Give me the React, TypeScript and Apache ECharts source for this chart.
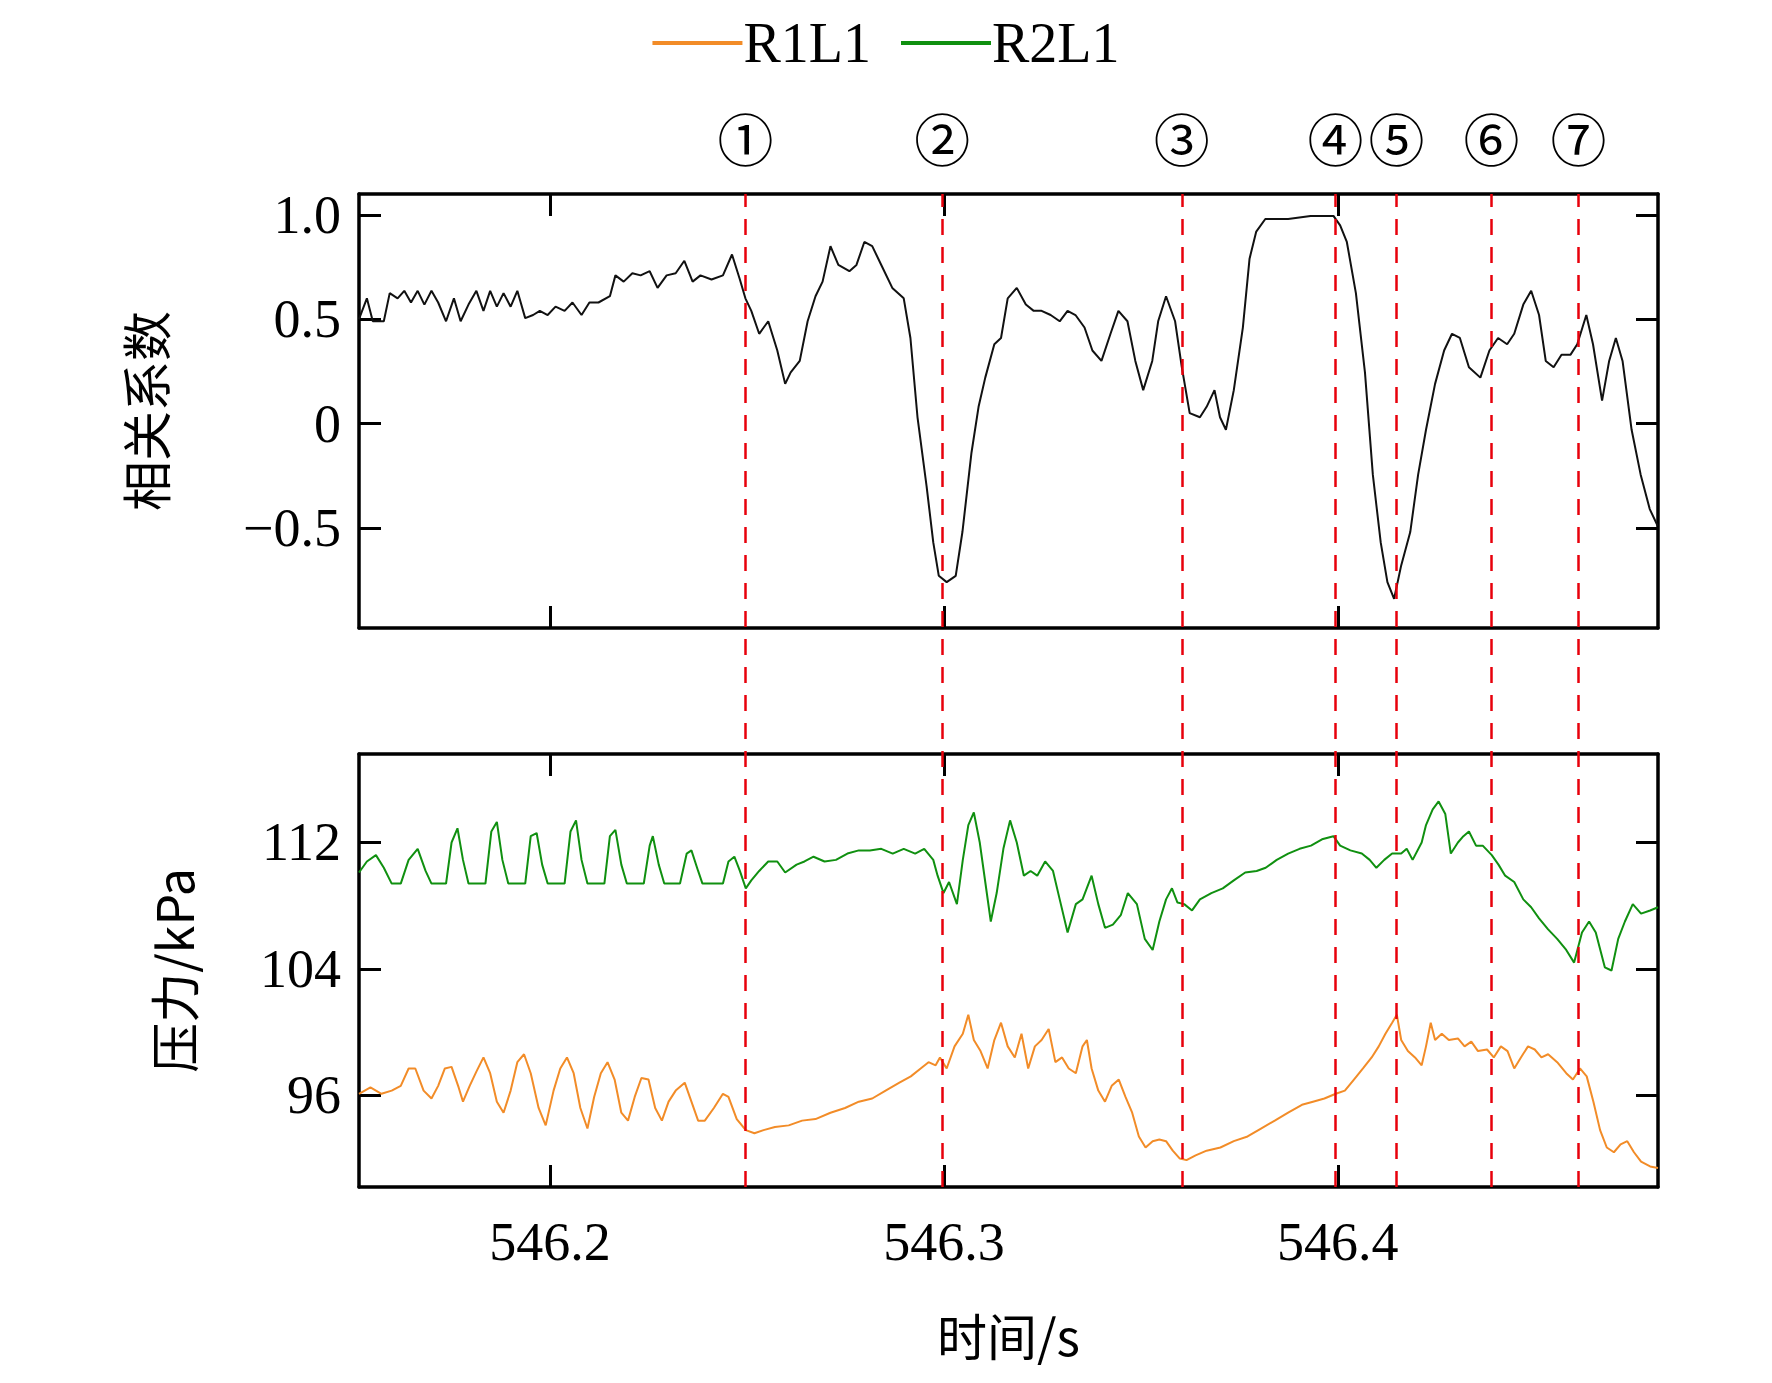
import React, { useEffect, useRef } from "react";
import * as echarts from "echarts";

// time is in ms after 546.2 s
const corr: number[][] = [
  [-48.5, 0.5], [-46.5, 0.6], [-45.0, 0.49], [-42.2, 0.49], [-40.7, 0.625], [-38.7, 0.6], [-37.0, 0.636],
  [-35.3, 0.58], [-33.6, 0.636], [-31.9, 0.57], [-30.1, 0.636], [-28.4, 0.58], [-26.4, 0.49], [-24.4, 0.6],
  [-22.7, 0.49], [-20.7, 0.57], [-18.7, 0.636], [-16.9, 0.54], [-15.2, 0.636], [-13.5, 0.56], [-11.8, 0.625],
  [-10.0, 0.56], [-8.3, 0.636], [-6.3, 0.505], [-4.3, 0.52], [-2.6, 0.54], [-0.6, 0.52], [1.4, 0.56],
  [3.7, 0.54], [5.7, 0.58], [8.0, 0.52], [10.0, 0.58], [12.3, 0.58], [15.2, 0.61], [16.6, 0.71],
  [18.7, 0.68], [20.9, 0.72], [23.0, 0.71], [25.3, 0.73], [27.3, 0.65], [29.6, 0.71], [31.9, 0.72],
  [34.1, 0.78], [36.2, 0.68], [38.2, 0.71], [41.0, 0.69], [43.9, 0.71], [46.2, 0.81], [48.2, 0.69],
  [49.6, 0.6], [51.1, 0.54], [53.1, 0.43], [55.4, 0.49], [57.7, 0.35], [59.7, 0.19], [61.1, 0.245],
  [63.4, 0.3], [65.4, 0.49], [67.4, 0.61], [69.2, 0.68], [71.2, 0.85], [73.2, 0.76], [76.0, 0.73],
  [77.8, 0.76], [79.8, 0.87], [81.8, 0.85], [84.1, 0.76], [86.9, 0.65], [89.8, 0.6], [91.5, 0.41],
  [93.3, 0.03], [95.6, -0.3], [97.3, -0.57], [98.7, -0.73], [100.7, -0.76], [103.0, -0.73], [104.7, -0.52],
  [107.0, -0.14], [108.8, 0.08], [110.5, 0.22], [112.8, 0.38], [114.5, 0.41], [116.2, 0.6], [118.5, 0.65],
  [120.8, 0.57], [122.8, 0.54], [124.8, 0.54], [127.1, 0.52], [129.4, 0.49], [131.4, 0.54], [133.4, 0.52],
  [135.7, 0.46], [137.7, 0.35], [140.0, 0.3], [142.3, 0.43], [144.3, 0.54], [146.6, 0.49], [148.6, 0.3],
  [150.6, 0.16], [152.9, 0.3], [154.4, 0.49], [156.4, 0.61], [158.7, 0.49], [160.4, 0.27], [162.4, 0.05],
  [165.0, 0.03], [166.7, 0.08], [168.7, 0.16], [170.1, 0.03], [171.6, -0.03], [173.6, 0.16], [175.9, 0.46],
  [177.6, 0.79], [179.3, 0.92], [181.6, 0.98], [187.4, 0.98], [193.1, 0.995], [198.9, 0.995], [200.6, 0.95],
  [202.3, 0.87], [204.6, 0.625], [206.9, 0.245], [208.9, -0.245], [210.9, -0.57], [212.6, -0.76], [214.3, -0.84],
  [216.1, -0.68], [218.4, -0.52], [220.4, -0.245], [222.4, -0.03], [224.7, 0.19], [227.0, 0.35], [229.0, 0.43],
  [231.0, 0.41], [233.3, 0.27], [236.2, 0.22], [238.5, 0.35], [240.7, 0.41], [243.0, 0.38], [244.8, 0.43],
  [247.1, 0.57], [249.1, 0.636], [251.1, 0.52], [252.8, 0.3], [254.8, 0.27], [256.8, 0.33], [259.1, 0.33],
  [260.8, 0.38], [263.1, 0.52], [264.8, 0.38], [267.1, 0.11], [268.9, 0.3], [270.6, 0.41], [272.3, 0.3],
  [274.6, -0.03], [276.9, -0.245], [279.2, -0.41], [281.2, -0.49],
];

const r2l1: number[][] = [
  [-48.5, 110.1], [-46.5, 110.8], [-44.2, 111.2], [-42.2, 110.4], [-40.2, 109.4], [-37.9, 109.4], [-35.9, 110.9],
  [-33.6, 111.6], [-31.6, 110.2], [-30.1, 109.4], [-26.4, 109.4], [-25.0, 112.0], [-23.5, 112.9], [-22.1, 110.9],
  [-20.7, 109.4], [-16.4, 109.4], [-14.9, 112.7], [-13.5, 113.3], [-12.1, 110.9], [-10.6, 109.4], [-6.3, 109.4],
  [-4.9, 112.4], [-3.4, 112.6], [-2.0, 110.6], [-0.6, 109.4], [3.7, 109.4], [5.2, 112.7], [6.6, 113.4],
  [8.0, 110.9], [9.5, 109.4], [13.8, 109.4], [15.2, 112.4], [16.6, 112.8], [18.1, 110.6], [19.5, 109.4],
  [23.8, 109.4], [25.3, 111.8], [26.1, 112.4], [27.6, 110.6], [29.0, 109.4], [33.0, 109.4], [34.7, 111.3],
  [35.9, 111.5], [37.6, 110.2], [38.7, 109.4], [43.9, 109.4], [45.3, 110.8], [46.8, 111.1], [48.2, 110.2],
  [49.7, 109.1], [51.1, 109.6], [53.1, 110.2], [55.4, 110.8], [57.7, 110.8], [59.7, 110.1], [62.6, 110.6],
  [64.6, 110.8], [66.9, 111.1], [69.7, 110.8], [72.6, 110.9], [75.5, 111.3], [78.4, 111.5], [81.2, 111.5],
  [84.1, 111.6], [87.0, 111.3], [89.8, 111.6], [92.7, 111.3], [95.0, 111.6], [97.3, 110.9], [98.4, 109.9],
  [99.9, 108.8], [101.3, 109.5], [103.3, 108.1], [104.8, 110.9], [106.2, 113.1], [107.6, 113.9], [109.1, 112.0],
  [110.5, 109.5], [111.9, 107.0], [113.4, 108.8], [115.1, 111.6], [116.8, 113.4], [118.5, 112.0], [120.3, 109.9],
  [122.0, 110.2], [123.7, 109.9], [125.7, 110.8], [127.7, 110.2], [129.4, 108.4], [131.4, 106.3], [133.5, 108.1],
  [135.2, 108.4], [137.5, 109.9], [139.2, 108.1], [140.9, 106.6], [142.9, 106.8], [144.9, 107.4], [146.7, 108.8],
  [149.0, 108.1], [151.0, 105.9], [153.0, 105.2], [154.7, 107.0], [156.4, 108.4], [157.9, 109.1], [159.3, 108.2],
  [161.0, 108.1], [163.0, 107.7], [165.0, 108.4], [167.9, 108.8], [170.8, 109.1], [173.6, 109.6], [176.5, 110.1],
  [179.4, 110.2], [181.7, 110.4], [184.5, 110.9], [187.4, 111.3], [190.3, 111.6], [193.2, 111.8], [196.0, 112.2],
  [198.9, 112.4], [200.6, 111.8], [203.2, 111.5], [206.1, 111.3], [208.1, 110.9], [209.8, 110.4], [211.8, 110.9],
  [213.8, 111.3], [216.1, 111.3], [217.5, 111.6], [219.0, 110.9], [221.3, 112.0], [222.4, 113.1], [224.1, 114.1],
  [225.6, 114.6], [227.3, 113.8], [228.7, 111.3], [230.5, 112.0], [231.9, 112.4], [233.3, 112.7], [235.1, 111.8],
  [236.8, 111.8], [239.1, 111.2], [240.8, 110.6], [242.5, 109.9], [244.8, 109.5], [247.1, 108.4], [249.1, 107.9],
  [251.1, 107.2], [253.4, 106.5], [255.7, 105.9], [258.0, 105.2], [260.0, 104.4], [262.0, 106.3], [263.8, 107.0],
  [265.5, 106.3], [267.8, 104.1], [269.5, 103.9], [271.2, 105.9], [272.9, 107.0], [274.9, 108.1], [277.0, 107.5],
  [279.3, 107.7], [281.3, 107.9],
];

const r1l1: number[][] = [
  [-48.5, 96.1], [-45.6, 96.5], [-42.8, 96.1], [-40.2, 96.3], [-37.9, 96.6], [-35.9, 97.7], [-34.2, 97.7],
  [-32.1, 96.3], [-30.1, 95.8], [-28.4, 96.6], [-26.7, 97.7], [-25.0, 97.8], [-23.2, 96.5], [-22.1, 95.6],
  [-20.4, 96.6], [-18.7, 97.5], [-16.9, 98.4], [-15.2, 97.4], [-13.5, 95.6], [-11.8, 94.9], [-10.0, 96.3],
  [-8.3, 98.1], [-6.6, 98.6], [-4.9, 97.4], [-2.9, 95.2], [-1.1, 94.1], [0.9, 96.3], [2.6, 97.7],
  [4.3, 98.4], [6.0, 97.4], [7.7, 95.2], [9.5, 93.9], [11.2, 95.9], [12.9, 97.4], [14.6, 98.1],
  [16.4, 97.0], [18.1, 94.9], [19.8, 94.4], [21.5, 95.9], [23.2, 97.1], [25.0, 97.0], [26.7, 95.2],
  [28.4, 94.4], [30.1, 95.6], [31.9, 96.3], [34.2, 96.8], [35.9, 95.6], [37.6, 94.4], [39.3, 94.4],
  [41.6, 95.2], [43.9, 96.1], [45.3, 95.9], [47.4, 94.5], [49.7, 93.8], [51.9, 93.6], [54.2, 93.8],
  [57.1, 94.0], [60.6, 94.1], [64.0, 94.4], [67.4, 94.5], [71.2, 94.9], [74.9, 95.2], [78.4, 95.6],
  [81.8, 95.8], [85.2, 96.3], [88.7, 96.8], [91.6, 97.2], [94.1, 97.7], [96.1, 98.1], [97.9, 97.9],
  [99.0, 98.4], [100.7, 97.7], [102.7, 99.1], [104.8, 99.9], [106.2, 101.1], [107.6, 99.5], [109.3, 98.8],
  [111.1, 97.7], [112.8, 99.5], [114.5, 100.6], [116.2, 99.1], [118.0, 98.4], [119.7, 99.9], [121.4, 97.7],
  [123.1, 99.1], [124.8, 99.5], [126.6, 100.2], [128.3, 98.1], [130.0, 98.4], [131.7, 97.7], [133.5, 97.4],
  [135.2, 99.1], [136.3, 99.5], [137.5, 97.7], [139.2, 96.3], [140.9, 95.6], [142.6, 96.6], [144.4, 97.0],
  [146.1, 95.9], [147.8, 94.9], [149.5, 93.4], [151.2, 92.7], [153.0, 93.1], [154.7, 93.2], [156.4, 93.1],
  [158.1, 92.5], [159.9, 92.0], [161.6, 91.9], [163.9, 92.2], [166.7, 92.5], [170.2, 92.7], [173.6, 93.1],
  [177.1, 93.4], [180.5, 93.9], [184.0, 94.4], [187.4, 94.9], [190.9, 95.4], [193.7, 95.6], [196.6, 95.8],
  [199.5, 96.1], [201.8, 96.3], [204.1, 97.0], [206.4, 97.7], [208.6, 98.4], [210.4, 99.1], [212.1, 99.9],
  [213.8, 100.6], [215.0, 101.1], [216.1, 99.5], [217.8, 98.8], [219.6, 98.4], [221.3, 97.9], [222.4, 99.1],
  [223.6, 100.6], [224.7, 99.5], [226.4, 99.9], [228.2, 99.5], [230.5, 99.6], [232.2, 99.1], [233.9, 99.4],
  [235.6, 98.8], [237.9, 98.9], [239.6, 98.4], [241.4, 99.1], [243.1, 98.8], [244.8, 97.7], [246.5, 98.4],
  [248.3, 99.1], [250.0, 98.9], [251.7, 98.4], [253.4, 98.6], [255.7, 98.1], [258.0, 97.4], [259.7, 97.0],
  [261.5, 97.7], [263.2, 97.2], [264.9, 95.6], [266.6, 93.8], [268.3, 92.7], [270.1, 92.4], [271.8, 92.9],
  [273.5, 93.1], [275.2, 92.4], [277.0, 91.8], [279.3, 91.5], [281.3, 91.4],
];

const events = [49.6, 99.6, 160.4, 199.4, 214.9, 239.0, 261.1];
const eventLabels = ["①", "②", "③", "④", "⑤", "⑥", "⑦"];
const xTicks = [0, 100, 200];
const corrTicks = [-0.5, 0, 0.5, 1.0];
const pressTicks = [96, 104, 112];

const SERIF = "Liberation Serif";
const CJK = "Noto Sans CJK SC";

const App: React.FC = () => {
  const ref = useRef<HTMLDivElement>(null);
  useEffect(() => {
    document.body.style.margin = "0";
    if (!ref.current) return;
    const chart = echarts.init(ref.current, null, { renderer: "svg" });
    const xBase = (grid: number, pos: "top" | "bottom", labels: boolean, name?: string) => ({
      type: "value",
      gridIndex: grid,
      position: pos,
      min: -48.5,
      max: 281.3,
      axisLine: { show: true, onZero: false, lineStyle: { color: "#000", width: 3.5 } },
      axisTick: { show: true, inside: true, length: 22, customValues: xTicks, lineStyle: { color: "#000", width: 3 } },
      axisLabel: {
        show: labels,
        customValues: xTicks,
        formatter: (v: number) => (546.2 + v / 1000).toFixed(1),
        color: "#000",
        fontFamily: SERIF,
        fontSize: 54,
        margin: 28,
      },
      splitLine: { show: false },
      name: name,
      nameLocation: "middle",
      nameGap: 122,
      nameTextStyle: { color: "#000", fontFamily: CJK, fontSize: 50 },
    });
    const yBase = (grid: number, pos: "left" | "right", min: number, max: number, ticks: number[], labels: boolean, fmt?: any, name?: string, gap?: number) => ({
      type: "value",
      gridIndex: grid,
      position: pos,
      min,
      max,
      axisLine: { show: true, onZero: false, lineStyle: { color: "#000", width: 3.5 } },
      axisTick: { show: true, inside: true, length: 22, customValues: ticks, lineStyle: { color: "#000", width: 3 } },
      axisLabel: { show: labels, customValues: ticks, formatter: fmt, color: "#000", fontFamily: SERIF, fontSize: 54, margin: 18 },
      splitLine: { show: false },
      name,
      nameLocation: "middle",
      nameGap: gap,
      nameTextStyle: { color: "#000", fontFamily: CJK, fontSize: 50 },
    });
    const corrFmt = (v: number) => (v === 0 ? "0" : v < 0 ? "−" + Math.abs(v).toFixed(1) : v.toFixed(1));
    chart.setOption({
      animation: false,
      legend: {
        top: 10,
        left: "center",
        itemWidth: 90,
        itemHeight: 4,
        itemGap: 30,
        icon: "rect",
        textStyle: { color: "#000", fontFamily: SERIF, fontSize: 56, padding: [0, 0, 0, -4] },
        data: ["R1L1", "R2L1"],
      },
      grid: [
        { left: 359, right: 114, top: 194, height: 434 },
        { left: 359, right: 114, top: 754, height: 433 },
        { left: 359, right: 114, top: 194, height: 993 },
      ],
      xAxis: [
        xBase(0, "bottom", false),
        xBase(0, "top", false),
        xBase(1, "bottom", true, "时间/s"),
        xBase(1, "top", false),
        { type: "value", gridIndex: 2, min: -48.5, max: 281.3, show: false },
      ],
      yAxis: [
        yBase(0, "left", -0.98, 1.1, corrTicks, true, corrFmt, "相关系数", 190),
        yBase(0, "right", -0.98, 1.1, corrTicks, false),
        yBase(1, "left", 90.2, 117.6, pressTicks, true, (v: number) => String(v), "压力/kPa", 162),
        yBase(1, "right", 90.2, 117.6, pressTicks, false),
        { type: "value", gridIndex: 2, min: 0, max: 1, show: false },
      ],
      series: [
        {
          name: "相关系数",
          type: "line",
          xAxisIndex: 0,
          yAxisIndex: 0,
          data: corr,
          showSymbol: false,
          lineStyle: { color: "#111", width: 2 },
          z: 3,
        },
        {
          name: "R1L1",
          type: "line",
          xAxisIndex: 2,
          yAxisIndex: 2,
          data: r1l1,
          showSymbol: false,
          itemStyle: { color: "#f28c28" },
          lineStyle: { color: "#f28c28", width: 2 },
          z: 3,
        },
        {
          name: "R2L1",
          type: "line",
          xAxisIndex: 2,
          yAxisIndex: 2,
          data: r2l1,
          showSymbol: false,
          itemStyle: { color: "#109010" },
          lineStyle: { color: "#109010", width: 2 },
          z: 3,
        },
        {
          type: "line",
          xAxisIndex: 4,
          yAxisIndex: 4,
          data: [],
          z: 5,
          markLine: {
            silent: true,
            symbol: "none",
            lineStyle: { color: "#e8000b", type: [16, 12], width: 2.5 },
            label: {
              show: true,
              position: "end",
              distance: 30,
              color: "#000",
              fontFamily: CJK,
              fontSize: 56,
              formatter: (p: any) => eventLabels[p.dataIndex],
            },
            data: events.map((t) => ({ xAxis: t })),
          },
        },
      ],
    });
    return () => chart.dispose();
  }, []);
  return <div ref={ref} style={{ width: 1772, height: 1383 }} />;
};

export default App;
